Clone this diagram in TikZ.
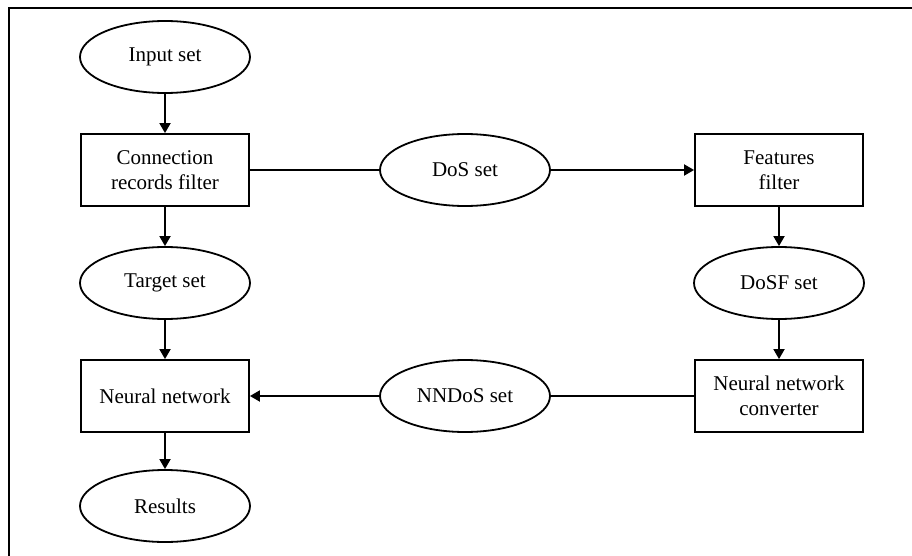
\documentclass[tikz,border=0pt]{standalone}
\usepackage{fontspec}
\setmainfont{Liberation Serif}
\usepackage{tikz}
\usetikzlibrary{shapes.geometric, arrows.meta, positioning}
\tikzstyle{block} = [rectangle, minimum width=168pt, minimum height=72pt, inner sep=0pt, align=center, draw=black, line width=1.8pt]
\tikzstyle{dataset} = [ellipse, minimum width=170pt, minimum height=72pt, inner sep=0pt, align=center, draw=black, line width=1.8pt]
\tikzstyle{arrow} = [line width=1.8pt,-{Triangle[length=10pt,width=11pt]}]
\tikzstyle{link} = [line width=1.8pt]

\begin{document}
\begin{tikzpicture}[x=1pt, y=1pt, node distance=113pt]
\useasboundingbox (0,0) rectangle (912,-556);
\fontsize{21}{25}\selectfont
% frame
\draw [line width=2.5pt] (912,-8) -- (9,-8) -- (9,-556);
% Define nodes
\node (inputSet) [dataset] at (165,-57) {Input set};
\node (recordsFilter) [block, below of=inputSet] {Connection\\records filter};
\node (targetSet) [dataset, below of=recordsFilter] {Target set};
\node (neuralNet) [block, below of=targetSet] {Neural network};
\node (results) [dataset, below of=neuralNet, node distance=110pt] {Results};
\node (dosSet) [dataset, node distance=300pt, right of=recordsFilter] {DoS set};
\node (featuresFilter) [block, node distance=314pt, right of=dosSet] {Features\\filter};
\node (dosfSet) [dataset, below of=featuresFilter] {DoSF set};
\node (nnConverter) [block, below of=dosfSet] {Neural network\\converter};
\node (nndosSet) [dataset, node distance=300pt, right of=neuralNet] {NNDoS set};
% Connect nodes with arrows
\draw [arrow] (inputSet) -- (recordsFilter);
\draw [arrow] (recordsFilter) -- (targetSet);
\draw [arrow] (targetSet) -- (neuralNet);
\draw [arrow] (neuralNet) -- (results);
\draw [link] (recordsFilter) -- (dosSet);
\draw [arrow] (dosSet) -- (featuresFilter);
\draw [arrow] (featuresFilter) -- (dosfSet);
\draw [arrow] (dosfSet) -- (nnConverter);
\draw [link] (nnConverter) -- (nndosSet);
\draw [arrow] (nndosSet) -- (neuralNet);
\end{tikzpicture}
\end{document}
